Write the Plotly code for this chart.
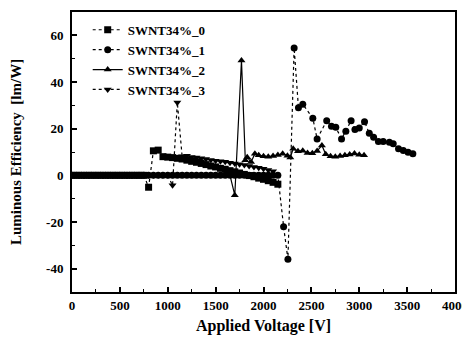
import plotly.graph_objects as go

# ---------------- data ----------------
base0_x = list(range(0, 800, 50))
s0_x = base0_x + [800, 850, 900, 950, 1000, 1050, 1100, 1150, 1200, 1250, 1300, 1350, 1400,
                  1450, 1500, 1550, 1600, 1650, 1700, 1750, 1800, 1850, 1900, 1950, 2000,
                  2050, 2100, 2150]
s0_y = [0] * len(base0_x) + [-5.1, 10.5, 10.8, 8.0, 7.8, 7.6, 7.3, 7.0, 6.5, 6.0, 5.6, 5.1, 4.6,
                             4.0, 3.6, 3.0, 2.6, 2.0, 1.5, 1.0, 0.4, -0.1, -0.6, -1.2, -1.7,
                             -2.3, -3.0, -3.8]

base1_x = list(range(0, 2200, 50))
s1_x = base1_x + [2210, 2255, 2320, 2365, 2410, 2515, 2560, 2660, 2710, 2755, 2815, 2860,
                  2915, 2955, 3000, 3055, 3105, 3150, 3200, 3250, 3315, 3355, 3410, 3460,
                  3510, 3560]
s1_y = [0] * len(base1_x) + [-22, -36, 54.6, 29, 30.5, 24.5, 15.6, 23.4, 21, 20.6, 15.6, 18.9,
                             23.4, 19.6, 20.3, 23, 18, 16.3, 14.5, 14.5, 14.2, 13.5, 11.4, 10.6,
                             9.9, 9.2]

base2_x = list(range(0, 1700, 50))
s2_x = base2_x + [1700, 1770, 1810, 1830, 1870, 1910, 1950, 2000, 2050, 2100, 2150, 2200, 2250,
                  2280, 2310, 2360, 2410, 2460, 2510, 2560, 2610, 2650, 2700, 2750, 2800,
                  2850, 2900, 2950, 3000, 3050]
s2_y = [0] * len(base2_x) + [-8.5, 49.2, 6.5, 7.8, 5.7, 9.2, 8.6, 8.2, 8.0, 8.3, 8.7, 9.2, 8.4,
                             7.6, 11.4, 10.3, 10.5, 9.6, 9.5, 10.4, 12.8, 9.0, 8.2, 8.0, 8.3,
                             8.6, 8.9, 9.4, 8.8, 8.6]

base3_x = list(range(0, 1050, 50))
s3_x = base3_x + [1050, 1100, 1150, 1200, 1250, 1300, 1350, 1400, 1450, 1500, 1550, 1600, 1650,
                  1700, 1750, 1800, 1850, 1900, 1950, 2000, 2050, 2100]
s3_y = [0] * len(base3_x) + [-4.3, 31.2, 8.2, 8.4, 7.9, 7.6, 7.3, 7.0, 6.6, 6.3, 6.0, 5.8, 5.4,
                             5.1, 4.8, 4.4, 4.0, 3.6, 3.2, 2.8, 2.3, 1.8]

series_names = ["SWNT34%_0", "SWNT34%_1", "SWNT34%_2", "SWNT34%_3"]
x_ticks = [0, 500, 1000, 1500, 2000, 2500, 3000, 3500, 4000]
y_ticks = [-40, -20, 0, 20, 40, 60]
y_tick_text = ["-40", "-20", "0", "20", "40", "60"]

# ---------------- figure ----------------
FONT = "Liberation Serif"
fig = go.Figure()
styles = [
    dict(symbol="square", dash="dot"),
    dict(symbol="circle", dash="dot"),
    dict(symbol="triangle-up", dash="solid"),
    dict(symbol="triangle-down", dash="dot"),
]
for name, xs, ys, st in zip(series_names, [s0_x, s1_x, s2_x, s3_x],
                            [s0_y, s1_y, s2_y, s3_y], styles):
    fig.add_trace(go.Scatter(
        x=xs, y=ys, name=name, mode="lines+markers",
        line=dict(color="black", width=1.2, dash=st["dash"]),
        marker=dict(symbol=st["symbol"], size=7, color="black"),
    ))

axis_common = dict(
    showline=True, linecolor="black", linewidth=2, mirror=True,
    showgrid=False, zeroline=False, ticks="inside", ticklen=5, tickwidth=1.5,
    tickcolor="black", automargin=False,
    tickfont=dict(family=FONT, size=13, color="black", weight="bold"),
)

fig.update_xaxes(
    range=[0, 4000], tickvals=x_ticks,
    minor=dict(ticks="inside", ticklen=3, dtick=250, tickcolor="black", tickwidth=1.2),
    title=dict(text="<b>Applied Voltage [V]</b>", standoff=8,
               font=dict(family=FONT, size=16, color="black")),
    **axis_common,
)
fig.update_yaxes(
    range=[-50, 70], tickvals=y_ticks, ticktext=y_tick_text,
    minor=dict(ticks="inside", ticklen=3, dtick=10, tickcolor="black", tickwidth=1.2),
    ticklabelstandoff=4,
    title=dict(text="<b>Luminous Efficiency  [lm/W]</b>", standoff=22,
               font=dict(family=FONT, size=15, color="black")),
    **axis_common,
)

# page body adds an 8px margin, so the figure is 8px smaller and margins shifted
fig.update_layout(
    width=462, height=329,
    margin=dict(l=64, r=15, t=4, b=45, autoexpand=False),
    paper_bgcolor="white", plot_bgcolor="white",
    showlegend=True,
    legend=dict(x=0.041, y=0.99, xanchor="left", yanchor="top",
                bgcolor="rgba(0,0,0,0)", tracegroupgap=0, itemwidth=30,
                font=dict(family=FONT, size=13, color="black", weight="bold")),
)

fig.write_html("out.html")
